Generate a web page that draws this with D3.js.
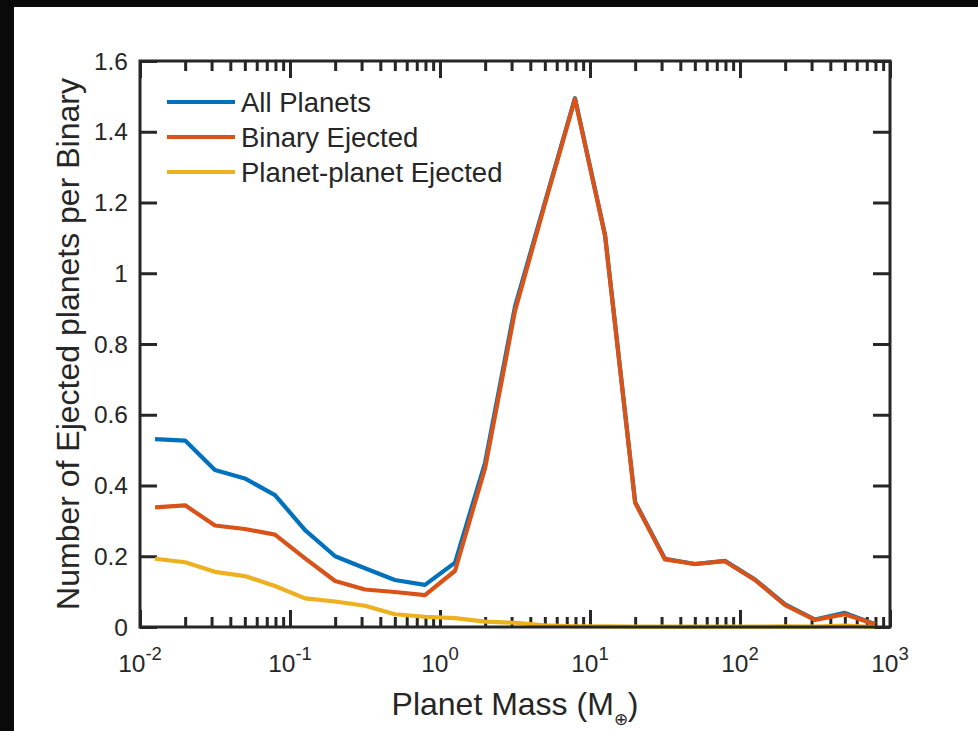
<!DOCTYPE html>
<html>
<head>
<meta charset="utf-8">
<script src="https://cdn.jsdelivr.net/npm/d3@7"></script>
<style>
  html, body { margin: 0; padding: 0; background: #0a0a0a; }
  svg { display: block; }
  text { font-family: "Liberation Sans", Arial, Helvetica, sans-serif; fill: #262626; }
</style>
</head>
<body>
<svg id="chart" width="978" height="731"></svg>
<script>
// ---- Data ----
const massValues = [0.0126, 0.02, 0.0316, 0.05, 0.0794, 0.126, 0.2, 0.316, 0.5, 0.794,
                    1.26, 2, 3.16, 5, 7.94, 12.6, 20, 31.6, 50, 79.4, 126, 200, 316, 500, 794];
const allPlanets = [0.531, 0.527, 0.444, 0.420, 0.373, 0.274, 0.200, 0.166, 0.133, 0.119,
                    0.182, 0.465, 0.905, 1.200, 1.495, 1.108, 0.353, 0.193, 0.178, 0.187,
                    0.134, 0.064, 0.021, 0.040, 0.008];
const binaryEjected = [0.338, 0.344, 0.287, 0.277, 0.261, 0.194, 0.130, 0.106, 0.099, 0.090,
                       0.159, 0.450, 0.893, 1.195, 1.493, 1.106, 0.351, 0.191, 0.178, 0.186,
                       0.133, 0.062, 0.020, 0.036, 0.008];
const planetPlanetEjected = [0.193, 0.183, 0.156, 0.144, 0.116, 0.081, 0.072, 0.060, 0.036, 0.029,
                             0.025, 0.015, 0.012, 0.005, 0.002, 0.002, 0.001, 0.001, 0.001, 0.001,
                             0.001, 0.002, 0.001, 0.004, 0.000];
const seriesNames = ["All Planets", "Binary Ejected", "Planet-planet Ejected"];
const seriesColors = ["#0072BD", "#D95319", "#EDB120"];
const xMajorTicks = [0.01, 0.1, 1, 10, 100, 1000];
const xTickExponents = ["-2", "-1", "0", "1", "2", "3"];
const yTicks = [0, 0.2, 0.4, 0.6, 0.8, 1, 1.2, 1.4, 1.6];
const yTickLabels = ["0", "0.2", "0.4", "0.6", "0.8", "1", "1.2", "1.4", "1.6"];
const xTitle = "Planet Mass (M";
const xTitleSub = "\u2295";
const yTitle = "Number of Ejected planets per Binary";

// ---- Layout ----
const W = 978, H = 731;
const L = 140, R = 890, T = 61, B = 627;
const axisColor = "#262626";

const svg = d3.select("#chart");
svg.append("rect").attr("x", 0).attr("y", 0).attr("width", W).attr("height", H).attr("fill", "#0a0a0a");
svg.append("rect").attr("x", 14).attr("y", 7).attr("width", W - 14).attr("height", H - 7).attr("fill", "#ffffff");

const x = d3.scaleLog().domain([0.01, 1000]).range([L, R]);
const y = d3.scaleLinear().domain([0, 1.6]).range([B, T]);

// minor ticks
const minorTicks = [];
for (let e = -2; e < 3; e++) for (let m = 2; m <= 9; m++) minorTicks.push(m * Math.pow(10, e));

function styleAxis(g) {
  g.select(".domain").remove();
  g.selectAll(".tick line").attr("stroke", axisColor).attr("stroke-width", 3);
  g.selectAll(".tick text").remove();
}

// bottom / top major & minor
svg.append("g").attr("transform", `translate(0,${B})`)
  .call(d3.axisBottom(x).tickValues(xMajorTicks).tickSize(-17).tickSizeOuter(0).tickFormat(""))
  .call(styleAxis);
svg.append("g").attr("transform", `translate(0,${B})`)
  .call(d3.axisBottom(x).tickValues(minorTicks).tickSize(-10).tickSizeOuter(0).tickFormat(""))
  .call(styleAxis);
svg.append("g").attr("transform", `translate(0,${T})`)
  .call(d3.axisTop(x).tickValues(xMajorTicks).tickSize(-17).tickSizeOuter(0).tickFormat(""))
  .call(styleAxis);
svg.append("g").attr("transform", `translate(0,${T})`)
  .call(d3.axisTop(x).tickValues(minorTicks).tickSize(-10).tickSizeOuter(0).tickFormat(""))
  .call(styleAxis);
// left / right
svg.append("g").attr("transform", `translate(${L},0)`)
  .call(d3.axisLeft(y).tickValues(yTicks).tickSize(-17).tickSizeOuter(0).tickFormat(""))
  .call(styleAxis);
svg.append("g").attr("transform", `translate(${R},0)`)
  .call(d3.axisRight(y).tickValues(yTicks).tickSize(-17).tickSizeOuter(0).tickFormat(""))
  .call(styleAxis);

// lines
const line = d3.line().x((d, i) => x(massValues[i])).y(d => y(d));
[allPlanets, binaryEjected, planetPlanetEjected].forEach((s, k) => {
  svg.append("path").datum(s)
    .attr("d", line)
    .attr("fill", "none")
    .attr("stroke", seriesColors[k])
    .attr("stroke-width", 4.2)
    .attr("stroke-linejoin", "round");
});

// box
svg.append("rect").attr("x", L).attr("y", T).attr("width", R - L).attr("height", B - T)
  .attr("fill", "none").attr("stroke", axisColor).attr("stroke-width", 3);

// y tick labels
svg.append("g").selectAll("text").data(yTicks).join("text")
  .attr("x", L - 12).attr("y", d => y(d))
  .attr("dy", "0.35em")
  .attr("text-anchor", "end")
  .attr("font-size", 24.5)
  .text((d, i) => yTickLabels[i]);

// x tick labels
const xl = svg.append("g").selectAll("text").data(xMajorTicks).join("text")
  .attr("x", d => x(d)).attr("y", B + 45)
  .attr("text-anchor", "middle")
  .attr("font-size", 24.5);
xl.append("tspan").text("10");
xl.append("tspan").attr("dy", -12).attr("font-size", 18.5).text((d, i) => xTickExponents[i]);

// x title
const xt = svg.append("text").attr("x", (L + R) / 2).attr("y", 715)
  .attr("text-anchor", "middle").attr("font-size", 32);
xt.append("tspan").text(xTitle);
xt.append("tspan").attr("dy", 10).attr("font-size", 17).text(xTitleSub);
xt.append("tspan").attr("dy", -10).text(")");

// y title
svg.append("text")
  .attr("transform", `translate(79,${(T + B) / 2}) rotate(-90)`)
  .attr("text-anchor", "middle").attr("font-size", 32)
  .text(yTitle);

// legend
const lg = svg.append("g");
seriesNames.forEach((name, k) => {
  const cy = 102 + k * 35;
  lg.append("line").attr("x1", 167).attr("x2", 235).attr("y1", cy).attr("y2", cy)
    .attr("stroke", seriesColors[k]).attr("stroke-width", 4);
  lg.append("text").attr("x", 241).attr("y", cy).attr("dy", "0.35em")
    .attr("font-size", 27.5).text(name);
});
</script>
</body>
</html>
